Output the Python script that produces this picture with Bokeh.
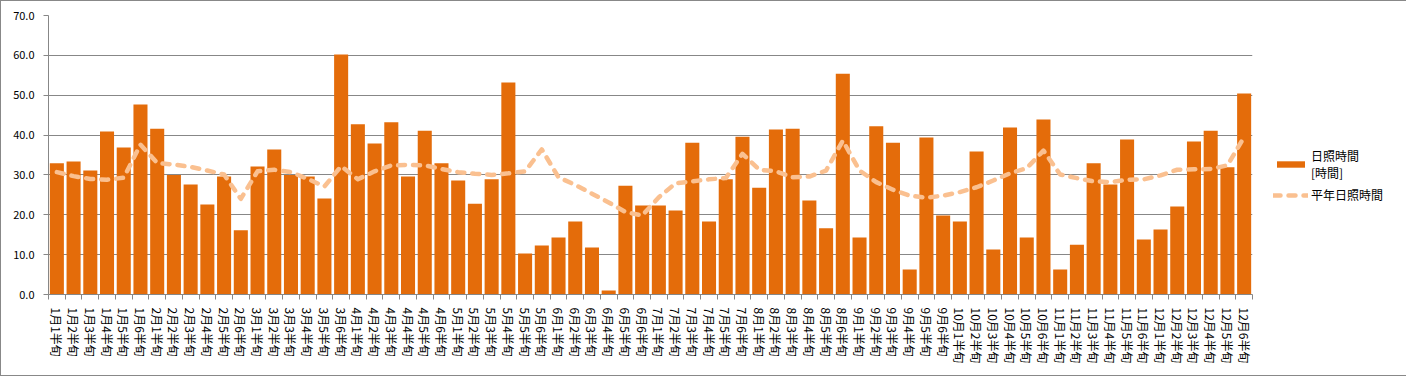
from bokeh.plotting import figure
from bokeh.models import (Range1d, FixedTicker, Legend, LegendItem, ColumnDataSource,
                          PrintfTickFormatter)
from bokeh.embed import file_html
from bokeh.resources import INLINE

categories = [f"{m}月{h}半旬" for m in range(1, 13) for h in range(1, 7)]

sunshine = [
    32.9, 33.4, 31.1, 40.9, 36.9, 47.7,
    41.6, 30.0, 27.6, 22.6, 29.6, 16.1,
    32.1, 36.4, 30.0, 29.6, 24.1, 60.2,
    42.7, 37.9, 43.2, 29.6, 41.1, 32.9,
    28.6, 22.8, 28.9, 53.2, 10.3, 12.3,
    14.3, 18.3, 11.8, 1.0, 27.3, 22.3,
    22.3, 21.1, 38.1, 18.3, 28.9, 39.6,
    26.8, 41.4, 41.6, 23.6, 16.6, 55.4,
    14.3, 42.2, 38.1, 6.3, 39.4, 19.8,
    18.3, 35.9, 11.3, 41.9, 14.3, 43.9,
    6.3, 12.5, 32.9, 27.6, 38.9, 13.8,
    16.3, 22.1, 38.4, 41.1, 31.9, 50.4,
]

normal = [
    30.7, 29.7, 29.0, 28.8, 29.3, 37.6,
    33.0, 32.6, 32.0, 31.1, 30.1, 24.0,
    30.9, 31.3, 30.7, 29.0, 27.1, 32.2,
    28.9, 30.9, 32.4, 32.5, 32.4, 31.5,
    30.7, 30.3, 30.0, 30.4, 30.9, 36.4,
    29.4, 27.5, 25.3, 23.1, 20.7, 19.8,
    24.4, 27.9, 28.4, 28.9, 29.2, 35.3,
    31.3, 30.9, 29.4, 29.6, 31.1, 38.6,
    31.1, 28.2, 26.3, 24.8, 24.3, 24.8,
    25.7, 26.9, 28.6, 30.4, 31.7, 36.1,
    30.1, 29.2, 28.4, 28.2, 28.8, 28.9,
    29.9, 31.3, 31.4, 31.5, 32.4, 39.5,
]

y_ticks = [0, 10, 20, 30, 40, 50, 60, 70]

FONT = "Noto Sans CJK JP"
GRID = "#878787"

n = len(categories)
xs = list(range(1, n + 1))
src = ColumnDataSource(dict(x=xs, cat=categories, sun=sunshine, norm=normal))

p = figure(frame_width=1204, frame_height=279, output_backend="svg", toolbar_location=None,
           x_range=Range1d(0.5, n + 0.5), y_range=Range1d(0, 70),
           min_border_left=47, min_border_right=153, min_border_top=14,
           min_border_bottom=81, outline_line_color=None,
           styles={"border": "1px solid #888888"})

bars = p.vbar(x="x", top="sun", width=0.84, source=src,
              fill_color="#E46C0A", line_color=None)
line = p.line(x="x", y="norm", source=src, line_color="#FAC090", line_width=4.5,
              line_dash="7 8", line_cap="round", line_join="round")

# x axis: labels at category centres, ticks at category boundaries
xa = p.xaxis[0]
xa.ticker = FixedTicker(ticks=xs, minor_ticks=[i + 0.5 for i in range(0, n + 1)])
xa.major_label_overrides = {x: c for x, c in zip(xs, categories)}
xa.major_label_orientation = "vertical"
xa.major_tick_line_color = None
xa.minor_tick_in = 0
xa.minor_tick_out = 5
xa.minor_tick_line_color = GRID
xa.axis_line_color = GRID
xa.major_label_text_font = FONT
xa.major_label_text_font_size = "12px"
xa.major_label_text_color = "#000000"
xa.major_label_standoff = 7

ya = p.yaxis[0]
ya.ticker = FixedTicker(ticks=y_ticks)
ya.formatter = PrintfTickFormatter(format="%.1f")
ya.minor_tick_line_color = None
ya.major_tick_in = 0
ya.major_tick_out = 5
ya.major_tick_line_color = GRID
ya.axis_line_color = GRID
ya.major_label_text_font = FONT
ya.major_label_text_font_size = "11px"
ya.major_label_text_color = "#000000"
ya.major_label_standoff = 9

p.xgrid.grid_line_color = None
p.ygrid.grid_line_color = GRID
p.ygrid.ticker = FixedTicker(ticks=y_ticks)

legend = Legend(items=[LegendItem(label="日照時間\n[時間]", renderers=[bars]),
                       LegendItem(label="平年日照時間", renderers=[line])],
                location=(21, 91), padding=0, margin=0, spacing=5,
                glyph_width=35, glyph_height=8, label_standoff=3,
                label_text_font=FONT, label_text_font_size="12px",
                label_text_color="#000000",
                border_line_color=None, background_fill_alpha=0)
p.add_layout(legend, "right")

open("out.html", "w").write(file_html(p, INLINE))
